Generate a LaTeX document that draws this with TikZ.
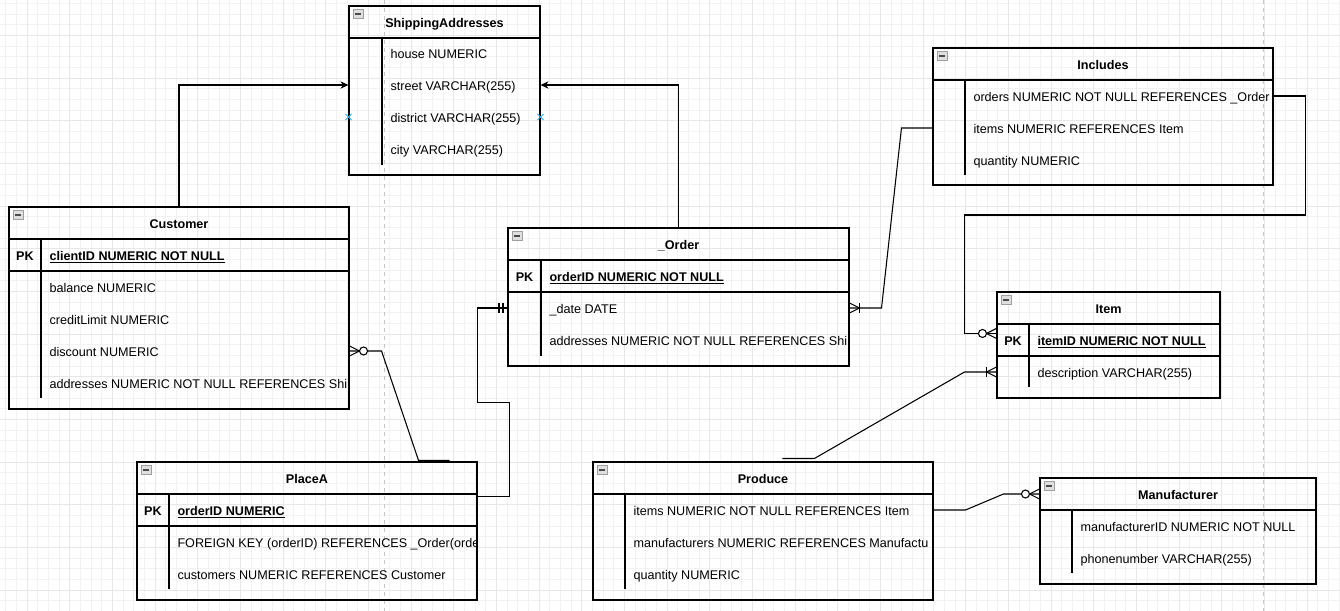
\documentclass[tikz,border=0pt]{standalone}
\usepackage{fontspec}
\setmainfont{Liberation Sans}
\usetikzlibrary{fit, calc, arrows.meta, shapes.misc}

\definecolor{xblue}{RGB}{41,182,242}

% crow's foot ends, #1 = point on the table edge, #2 = 1 (line goes right) or -1
\newcommand{\crowfoot}[2]{\draw[shift={#1}, xscale=#2] (0,-5) -- (10,0) -- (0,5);}
\newcommand{\zeromany}[2]{\crowfoot{#1}{#2}\draw[shift={#1}, xscale=#2, fill=white] (14,0) circle (4);}
\newcommand{\onemany}[2]{\crowfoot{#1}{#2}\draw[shift={#1}, xscale=#2] (10,-5) -- (10,5);}
\newcommand{\mandone}[2]{\draw[shift={#1}, xscale=#2] (4.5,-5) -- (4.5,5) (8.5,-5) -- (8.5,5);}

\begin{document}
\fontsize{9.45}{11.5}\selectfont
\begin{tikzpicture}
	[x=0.75pt, y=-0.75pt, line width=0.8pt,
	 minor/.style={draw=gray!10, line width=0.5pt},
	 major/.style={draw=gray!19, line width=0.5pt},
	 pagebreak/.style={draw=gray!45, dashed, line width=0.6pt},
	 box/.style={draw, inner sep=0pt},
	 txt/.style={inner sep=0pt, text height=9.5pt, text depth=2pt},
	 hdr/.style={txt, font=\bfseries},
	 pk/.style={txt, font=\bfseries},
	 fld/.style={txt, anchor=west},
	 icon/.style={draw=gray!75, fill=gray!25, minimum width=7.5pt, minimum height=7pt, inner sep=0pt, line width=0.5pt,
	   path picture={\draw[gray!60!black, line width=1pt] ([xshift=1.5pt]path picture bounding box.west) -- ([xshift=-1.5pt]path picture bounding box.east);}},
	 xmark/.style={cross out, draw=xblue, minimum size=4pt, inner sep=0pt, line width=0.6pt},
	 arr/.style={-{Stealth[length=6pt, width=5.5pt]}}]
   \useasboundingbox (0,0) rectangle (1340,611);

   % background grid
   \foreach \i in {0,...,125} \draw[minor] ({5.77+\i*10.666},0) -- ({5.77+\i*10.666},611);
   \foreach \j in {0,...,56} \draw[minor] (0,{3.4+\j*10.666}) -- (1340,{3.4+\j*10.666});
   \foreach \i in {0,...,30} \draw[major] ({27.1+\i*42.666},0) -- ({27.1+\i*42.666},611);
   \foreach \j in {0,...,13} \draw[major] (0,{35.4+\j*42.666}) -- (1340,{35.4+\j*42.666});
   \draw[pagebreak] (384,0) -- (384,611) (1263,0) -- (1263,611);

   % ShippingAddresses
   \node[box, fit={(349,6) (540,175)}] (ship) {};
   \node[icon] (shipI) at (358,14) {};
   \node[hdr] (shipT) at (444.5,22) {ShippingAddresses};
   \draw (349,38) -- (540,38) (382,38) -- (382,165);
   \node[fld] (shipHouse) at (390,53) {house NUMERIC};
   \node[fld] (shipStreet) at (390,85) {street VARCHAR(255)};
   \node[fld] (shipDist) at (390,117) {district VARCHAR(255)};
   \node[fld] (shipCity) at (390,149) {city VARCHAR(255)};
   \node[xmark] (shipX1) at (ship.west |- shipDist) {};
   \node[xmark] (shipX2) at (ship.east |- shipDist) {};

   % Customer
   \node[box, fit={(9,207) (349,409)}] (cust) {};
   \node[icon] (custI) at (18,215) {};
   \node[hdr] (custT) at (179,223) {Customer};
   \draw (9,239) -- (349,239) (9,271) -- (349,271) (41,239) -- (41,398);
   \node[pk] (custK) at (25,255) {PK};
   \node[fld, font=\bfseries] (custPK) at (49,255) {\underline{clientID NUMERIC NOT NULL}};
   \node[fld] (custBal) at (49,287) {balance NUMERIC};
   \node[fld] (custCred) at (49,319) {creditLimit NUMERIC};
   \node[fld] (custDisc) at (49,351) {discount NUMERIC};
   \begin{scope}
     \clip (cust.north west) rectangle (cust.south east);
     \node[fld] (custAddr) at (49,383) {addresses NUMERIC NOT NULL REFERENCES Shi};
   \end{scope}

   % _Order
   \node[box, fit={(508,228) (849,366)}] (order) {};
   \node[icon] (orderI) at (517,236) {};
   \node[hdr] (orderT) at (678.5,244) {\_Order};
   \draw (508,260) -- (849,260) (508,292) -- (849,292) (541,260) -- (541,356);
   \node[pk] (orderK) at (524.5,276) {PK};
   \node[fld, font=\bfseries] (ordPK) at (549,276) {\underline{orderID NUMERIC NOT NULL}};
   \node[fld] (ordDate) at (549,308) {\_date DATE};
   \begin{scope}
     \clip (order.north west) rectangle (order.south east);
     \node[fld] (ordAddr) at (549,340) {addresses NUMERIC NOT NULL REFERENCES Shi};
   \end{scope}

   % Includes
   \node[box, fit={(933,48) (1273,185)}] (incl) {};
   \node[icon] (inclI) at (942,56) {};
   \node[hdr] (inclT) at (1103,64) {Includes};
   \draw (933,80) -- (1273,80) (965,80) -- (965,175);
   \begin{scope}
     \clip (incl.north west) rectangle (incl.south east);
     \node[fld] (inclOrd) at (973,96) {orders NUMERIC NOT NULL REFERENCES \_Order};
   \end{scope}
   \node[fld] (inclItems) at (973,128) {items NUMERIC REFERENCES Item};
   \node[fld] (inclQty) at (973,160) {quantity NUMERIC};

   % Item
   \node[box, fit={(997,292) (1220,398)}] (item) {};
   \node[icon] (itemI) at (1006,300) {};
   \node[hdr] (itemT) at (1108.5,308) {Item};
   \draw (997,324) -- (1220,324) (997,356) -- (1220,356) (1029,324) -- (1029,387);
   \node[pk] (itemK) at (1013,340) {PK};
   \node[fld, font=\bfseries] (itemPK) at (1037,340) {\underline{itemID NUMERIC NOT NULL}};
   \node[fld] (itemDesc) at (1037,372) {description VARCHAR(255)};

   % PlaceA
   \node[box, fit={(137,462) (477,600)}] (pa) {};
   \node[icon] (paI) at (146,470) {};
   \node[hdr] (paT) at (307,478) {PlaceA};
   \draw (137,494) -- (477,494) (137,526) -- (477,526) (169,494) -- (169,589);
   \node[pk] (paK) at (153,510) {PK};
   \node[fld, font=\bfseries] (paPK) at (177,510) {\underline{orderID NUMERIC}};
   \begin{scope}
     \clip (pa.north west) rectangle (pa.south east);
     \node[fld] (paFK) at (177,542) {FOREIGN KEY (orderID) REFERENCES \_Order(orde};
   \end{scope}
   \node[fld] (paCust) at (177,574) {customers NUMERIC REFERENCES Customer};

   % Produce
   \node[box, fit={(593,462) (933,600)}] (prod) {};
   \node[icon] (prodI) at (602,470) {};
   \node[hdr] (prodT) at (763,478) {Produce};
   \draw (593,494) -- (933,494) (625,494) -- (625,589);
   \node[fld] (prodItems) at (633,510) {items NUMERIC NOT NULL REFERENCES Item};
   \begin{scope}
     \clip (prod.north west) rectangle (prod.south east);
     \node[fld] (prodMan) at (633,542) {manufacturers NUMERIC REFERENCES Manufactu};
   \end{scope}
   \node[fld] (prodQty) at (633,574) {quantity NUMERIC};

   % Manufacturer
   \node[box, fit={(1040,478) (1316,584)}] (man) {};
   \node[icon] (manI) at (1049,486) {};
   \node[hdr] (manT) at (1178,494) {Manufacturer};
   \draw (1040,510) -- (1316,510) (1072,510) -- (1072,573);
   \node[fld] (manID) at (1080,526) {manufacturerID NUMERIC NOT NULL};
   \node[fld] (manPhone) at (1080,558) {phonenumber VARCHAR(255)};

   % relations
   \draw[arr] (cust.north) |- (ship.west |- shipStreet);
   \draw[arr] (order.north) |- (ship.east |- shipStreet);
   \draw (cust.east |- custDisc) -- ++(32,0) -- ($(pa.north east)+(-59,-1)$) -- ($(pa.north east)+(-28,-1)$);
   \draw ($(pa.north east)+(0,35)$) -- ++(32,0) -- ++(0,-94) -- ++(-32,0) |- (order.west |- ordDate);
   \draw (order.east |- ordDate) -- ++(32,0) -- ($(incl.west |- inclItems)+(-31,0)$) -- (incl.west |- inclItems);
   \draw (incl.east |- inclOrd) -- ++(32,0) -- ++(0,119) -| ($(item.north west)+(-32,42)$) -- ($(item.north west)+(0,42)$);
   \draw ($(prod.north west)+(190,-3)$) -- ++(32,0) -- ($(item.west |- itemDesc)+(-32,0)$) -- (item.west |- itemDesc);
   \draw (prod.east |- prodItems) -- ++(32,0) -- ($(man.west |- manT)+(-36,0)$) -- (man.west |- manT);

   \zeromany{(cust.east |- custDisc)}{1}
   \mandone{(order.west |- ordDate)}{-1}
   \onemany{(order.east |- ordDate)}{1}
   \zeromany{($(item.north west)+(0,42)$)}{-1}
   \onemany{(item.west |- itemDesc)}{-1}
   \zeromany{(man.west |- manT)}{-1}

\end{tikzpicture}
\end{document}
